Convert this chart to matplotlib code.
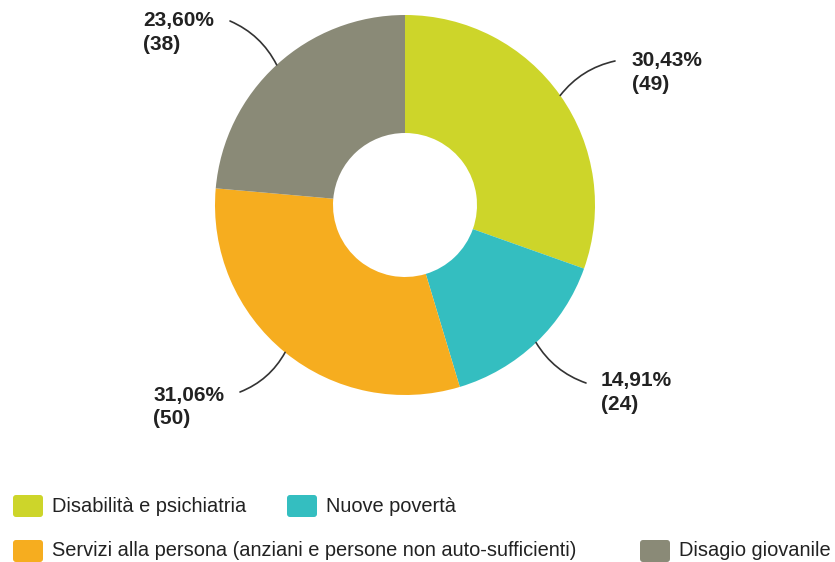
import numpy as np
import matplotlib
matplotlib.use('Agg')
import matplotlib.pyplot as plt
from matplotlib.patches import FancyBboxPatch

# data
categories = ['Disabilità e psichiatria', 'Nuove povertà',
              'Servizi alla persona (anziani e persone non auto-sufficienti)',
              'Disagio giovanile']
counts = [49, 24, 50, 38]
pct_labels = ['30,43%', '14,91%', '31,06%', '23,60%']
colors = ['#cdd52a', '#34bec0', '#f6ad1f', '#8a8a77']

W, H = 835, 562
plt.rcParams['font.family'] = ['Liberation Sans', 'DejaVu Sans']

fig = plt.figure(figsize=(W / 100, H / 100), dpi=100)
ax = fig.add_axes([0, 0, 1, 1])

def Y(y):
    # pixel row (from top) -> data y
    return H - y

cx, cy, R, r_in = 405, 205, 190, 72
wedges, _ = ax.pie(counts, colors=colors, startangle=90, counterclock=False,
                   center=(cx, Y(cy)), radius=R,
                   wedgeprops=dict(width=R - r_in, linewidth=0))

# leader line end (x, y), text left x, text top y
label_pos = [
    ((615, 61), 632, 51),
    ((586, 383), 601, 371),
    ((240, 392), 153, 386),
    ((230, 21), 143, 11),
]
total = float(sum(counts))
cum = 0.0
for i, c in enumerate(counts):
    mid = (cum + c / 2.0) / total * 2 * np.pi
    cum += c
    sx = cx + R * np.sin(mid)
    sy = cy - R * np.cos(mid)
    (ex, ey), tx, ty = label_pos[i]
    rad = 0.18 if i in (0, 2) else -0.18
    ax.annotate('', xy=(sx, Y(sy)), xytext=(ex, Y(ey)),
                arrowprops=dict(arrowstyle='-', color='#333333', lw=1.2,
                                shrinkA=0, shrinkB=0,
                                connectionstyle='arc3,rad=%s' % rad))
    txt = pct_labels[i] + '\n(' + str(c) + ')'
    ax.text(tx, Y(ty), txt, ha='left', va='top', fontsize=15,
            fontweight='bold', color='#222222', linespacing=1.3)

# legend drawn by hand
leg = [(13, 506, 0), (287, 506, 1), (13, 551, 2), (640, 551, 3)]
for x, y, i in leg:
    box = FancyBboxPatch((x, Y(y) - 11), 30, 22,
                         boxstyle='round,pad=0,rounding_size=3',
                         facecolor=colors[i], edgecolor='none')
    ax.add_patch(box)
    ax.text(x + 39, Y(y), categories[i], ha='left', va='center',
            fontsize=14.4, color='#222222')

ax.set_xlim(0, W)
ax.set_ylim(0, H)
ax.set_aspect('auto')
ax.axis('off')

fig.savefig('out.png', dpi=100)
